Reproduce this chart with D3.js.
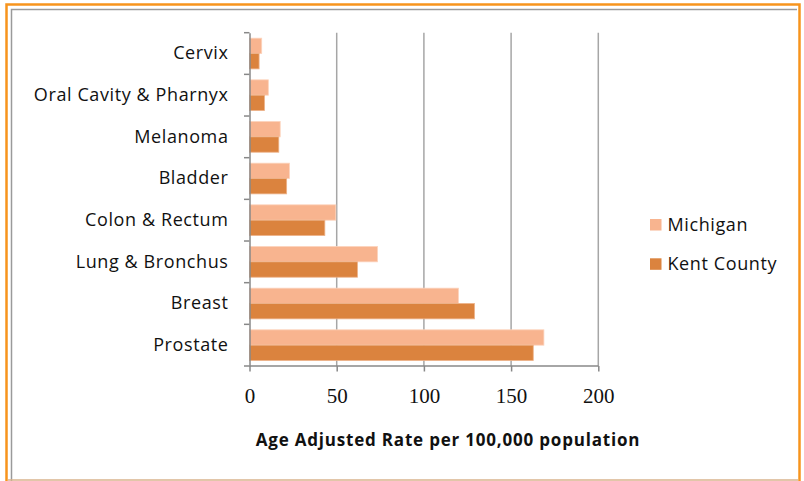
<!DOCTYPE html>
<html><head><meta charset="utf-8">
<script src="https://cdn.jsdelivr.net/npm/d3@7"></script>
<style>
html,body{margin:0;padding:0;background:#fff;}
svg{display:block;}
</style></head>
<body>
<svg id="chart" width="804" height="481"></svg>
<script>
const categories = ["Cervix","Oral Cavity & Pharnyx","Melanoma","Bladder","Colon & Rectum","Lung & Bronchus","Breast","Prostate"];
const michigan   = [7, 10.8, 17.6, 22.9, 49.5, 73.4, 119.8, 168.8];
const kentCounty = [5.5, 8.6, 16.8, 21.3, 43.2, 61.9, 129, 162.7];
const seriesNames = ["Michigan","Kent County"];
const xTicks = [0, 50, 100, 150, 200];
const axisTitle = "Age Adjusted Rate per 100,000 population";
const colors = {"Michigan":"#F8B48F","Kent County":"#DB833E"};

const svg = d3.select("#chart");
const labelFont = "'Open Sans', Lato, sans-serif";

// frame
svg.append("rect").attr("x",6.5).attr("y",4.5).attr("width",793).attr("height",478)
  .attr("fill","none").attr("stroke","#F7941D").attr("stroke-width",2.5);
svg.append("path").attr("d","M11.5,800 V9.5 H797").attr("fill","none").attr("stroke","#9a9a9a").attr("stroke-width",1.5);
svg.append("line").attr("x1",8).attr("x2",798).attr("y1",480).attr("y2",480).attr("stroke","#D9B38C").attr("stroke-width",1.5);

const x = d3.scaleLinear().domain([0,200]).range([249.5,598.3]);
const y = d3.scaleBand().domain(categories).range([32.7,366]).paddingInner(0).paddingOuter(0);
const ySub = d3.scaleBand().domain(seriesNames).range([0,y.bandwidth()]).paddingOuter(0.357).paddingInner(0);

// gridlines
svg.append("g").selectAll("line").data(xTicks.filter(d=>d>0)).join("line")
  .attr("x1",d=>x(d)).attr("x2",d=>x(d)).attr("y1",y.range()[0]).attr("y2",y.range()[1])
  .attr("stroke","#a6a6a6").attr("stroke-width",1.5);

// bars
const data = categories.map((c,i)=>({cat:c, vals:[{s:"Michigan",v:michigan[i]},{s:"Kent County",v:kentCounty[i]}]}));
const g = svg.append("g");
g.selectAll("g").data(data).join("g")
  .attr("transform",d=>`translate(0,${y(d.cat)})`)
  .selectAll("rect").data(d=>d.vals).join("rect")
  .attr("x",x(0)).attr("y",d=>ySub(d.s)).attr("width",d=>x(d.v)-x(0)).attr("height",ySub.bandwidth())
  .attr("fill",d=>colors[d.s]).attr("stroke",d=>d.s==="Michigan"?"#FCD3BC":"#EDB289").attr("stroke-width",0.8);

// y axis
const yAxis = d3.axisLeft(y).tickSize(0).tickPadding(21).tickFormat(d=>d);
const ya = svg.append("g").attr("transform",`translate(${x(0)},0)`).call(yAxis);
ya.select(".domain").attr("stroke","#888").attr("stroke-width",1.5);
ya.selectAll("text").attr("font-family",labelFont).attr("font-size",18).attr("letter-spacing",0.6).attr("fill","#111");
// category boundary ticks
const bounds = categories.map(c=>y(c)).concat([y.range()[1]]);
svg.append("g").selectAll("line").data(bounds).join("line")
  .attr("x1",x(0)-5.5).attr("x2",x(0)).attr("y1",d=>d).attr("y2",d=>d)
  .attr("stroke","#888").attr("stroke-width",1.5);

// x axis
const xAxis = d3.axisBottom(x).tickValues(xTicks).tickSize(5.5).tickPadding(17).tickFormat(d3.format("d"));
const xa = svg.append("g").attr("transform",`translate(0,${y.range()[1]})`).call(xAxis);
xa.select(".domain").attr("stroke","#888").attr("stroke-width",1.5).attr("d",`M${x(0)},0H${x(200)}`);
xa.selectAll(".tick line").attr("stroke","#888").attr("stroke-width",1.5);
xa.selectAll("text").attr("font-family","'Liberation Serif', 'DejaVu Serif', serif").attr("font-size",21).attr("fill","#111");

svg.append("text").attr("x",448).attr("y",446).attr("text-anchor","middle")
  .attr("font-family",labelFont).attr("font-weight","bold").attr("font-size",17).attr("letter-spacing",0.8).attr("fill","#111")
  .text(axisTitle);

// legend
const lg = svg.append("g").selectAll("g").data(seriesNames).join("g")
  .attr("transform",(d,i)=>`translate(650,${219+i*39.3})`);
lg.append("rect").attr("width",11.5).attr("height",11.5).attr("fill",d=>colors[d]);
lg.append("text").attr("x",17.5).attr("y",12).attr("font-family",labelFont).attr("font-size",18).attr("letter-spacing",0.6).attr("fill","#111").text(d=>d);
</script>
</body></html>
